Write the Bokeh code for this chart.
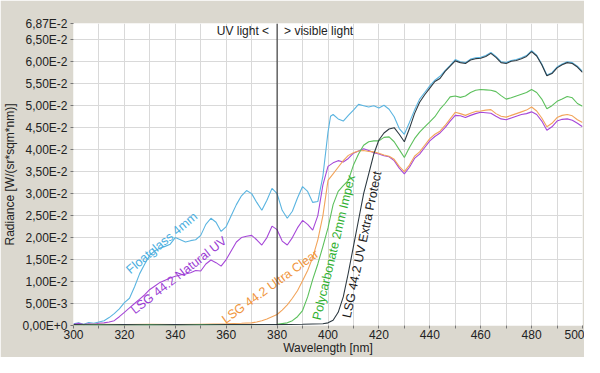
from bokeh.plotting import figure
from bokeh.models import FixedTicker, Span, Label
from bokeh.core.properties import value
from bokeh.embed import file_html
from bokeh.resources import INLINE

# ---------------- data ----------------
float_wl = [300, 302, 304, 306, 308, 310, 312, 314, 316, 318, 320, 322, 324, 326, 328, 330, 332, 334, 336, 338,
            340, 342, 344, 346, 348, 350, 352, 354, 356, 358, 360, 362, 364, 366, 368, 370, 372, 374, 376, 378,
            380, 382, 384, 386, 388, 390, 392, 394, 396, 398, 400, 401, 402, 404, 406, 408, 410, 412, 414, 416,
            418, 420, 422, 424, 426, 428, 430, 432, 434, 436, 438, 440, 442, 444, 446, 448, 450, 452, 454, 456,
            458, 460, 462, 464, 466, 468, 470, 472, 474, 476, 478, 480, 482, 484, 486, 488, 490, 492, 494, 496,
            498, 500]
float_val = [0.0004, 0.0006, 0.0003, 0.0007, 0.0005, 0.0008, 0.0011, 0.0018, 0.0027, 0.0038, 0.0052, 0.0062,
             0.0088, 0.0118, 0.0140, 0.0160, 0.0170, 0.0176, 0.0180, 0.0185, 0.0200, 0.0195, 0.0190, 0.0193,
             0.0195, 0.0205, 0.0230, 0.0244, 0.0235, 0.0214, 0.0225, 0.0250, 0.0275, 0.0295, 0.0307, 0.0300,
             0.0280, 0.0262, 0.0285, 0.0312, 0.0300, 0.0262, 0.0244, 0.0260, 0.0290, 0.0316, 0.0305, 0.0280,
             0.0282, 0.0340, 0.0440, 0.0476, 0.0480, 0.0470, 0.0465, 0.0478, 0.0490, 0.0503, 0.0500, 0.0497,
             0.0500, 0.0495, 0.0501, 0.0492, 0.0475, 0.0448, 0.0435, 0.0462, 0.0490, 0.0515, 0.0530, 0.0545,
             0.0558, 0.0567, 0.0580, 0.0592, 0.0605, 0.0600, 0.0598, 0.0606, 0.0609, 0.0610, 0.0614, 0.0621,
             0.0612, 0.0600, 0.0598, 0.0603, 0.0605, 0.0609, 0.0614, 0.0625, 0.0615, 0.0595, 0.0570, 0.0575,
             0.0588, 0.0595, 0.0600, 0.0598, 0.0590, 0.0578]

natural_wl = [300, 302, 304, 306, 308, 310, 312, 314, 316, 318, 320, 322, 324, 326, 328, 330, 332, 334, 336, 338,
              340, 342, 344, 346, 348, 350, 352, 354, 356, 358, 360, 362, 364, 366, 368, 370, 372, 374, 376, 378,
              380, 382, 384, 386, 388, 390, 392, 394, 396, 398, 400, 402, 404, 406, 408, 410, 412, 414, 416, 418,
              420, 422, 424, 426, 428, 430, 432, 434, 436, 438, 440, 442, 444, 446, 448, 450, 452, 454, 456, 458,
              460, 462, 464, 466, 468, 470, 472, 474, 476, 478, 480, 482, 484, 486, 488, 490, 492, 494, 496, 498,
              500]
natural_val = [0.0003, 0.0005, 0.0002, 0.0004, 0.0003, 0.0005, 0.0006, 0.0008, 0.0011, 0.0020, 0.0030, 0.0040,
               0.0050, 0.0060, 0.0070, 0.0082, 0.0090, 0.0098, 0.0103, 0.0108, 0.0112, 0.0115, 0.0117, 0.0120,
               0.0125, 0.0124, 0.0140, 0.0149, 0.0143, 0.0135, 0.0150, 0.0170, 0.0190, 0.0200, 0.0203, 0.0205,
               0.0195, 0.0183, 0.0200, 0.0226, 0.0218, 0.0192, 0.0183, 0.0200, 0.0222, 0.0239, 0.0230, 0.0217,
               0.0250, 0.0320, 0.0362, 0.0370, 0.0375, 0.0372, 0.0380, 0.0392, 0.0397, 0.0402, 0.0398, 0.0393,
               0.0390, 0.0386, 0.0384, 0.0375, 0.0358, 0.0345, 0.0360, 0.0380, 0.0390, 0.0405, 0.0420, 0.0430,
               0.0438, 0.0450, 0.0465, 0.0478, 0.0477, 0.0473, 0.0478, 0.0482, 0.0485, 0.0484, 0.0483, 0.0476,
               0.0470, 0.0468, 0.0472, 0.0476, 0.0480, 0.0482, 0.0486, 0.0480, 0.0465, 0.0444, 0.0452, 0.0465,
               0.0469, 0.0470, 0.0467, 0.0460, 0.0452]

clear_wl = [300, 310, 320, 330, 340, 350, 360, 366, 370, 372, 374, 376, 378, 380, 382, 384, 386, 388, 390, 392,
            394, 396, 398, 400, 402, 404, 406, 408, 410, 412, 414, 416, 418, 420, 422, 424, 426, 428, 430, 432,
            434, 436, 438, 440, 442, 444, 446, 448, 450, 452, 454, 456, 458, 460, 462, 464, 466, 468, 470, 472,
            474, 476, 478, 480, 482, 484, 486, 488, 490, 492, 494, 496, 498, 500]
clear_val = [0.0002, 0.0003, 0.0002, 0.0003, 0.0002, 0.0003, 0.0004, 0.0005, 0.0006, 0.0008, 0.0011, 0.0015,
             0.0020, 0.0025, 0.0035, 0.0047, 0.0062, 0.0079, 0.0102, 0.0125, 0.0155, 0.0195, 0.0250, 0.0330,
             0.0345, 0.0360, 0.0375, 0.0387, 0.0393, 0.0397, 0.0398, 0.0396, 0.0395, 0.0392, 0.0388, 0.0385,
             0.0378, 0.0362, 0.0350, 0.0365, 0.0385, 0.0395, 0.0410, 0.0425, 0.0435, 0.0442, 0.0455, 0.0470,
             0.0485, 0.0482, 0.0478, 0.0483, 0.0487, 0.0488, 0.0490, 0.0491, 0.0482, 0.0476, 0.0474, 0.0478,
             0.0482, 0.0486, 0.0490, 0.0497, 0.0488, 0.0472, 0.0452, 0.0460, 0.0473, 0.0478, 0.0480, 0.0477,
             0.0468, 0.0462]

poly_wl = [300, 310, 320, 330, 340, 350, 360, 370, 380, 384, 386, 388, 390, 392, 394, 396, 398, 400, 402, 404,
           406, 408, 410, 412, 414, 416, 418, 420, 422, 424, 426, 428, 430, 432, 434, 436, 438, 440, 442, 444,
           446, 448, 450, 452, 454, 456, 458, 460, 462, 464, 466, 468, 470, 472, 474, 476, 478, 480, 482, 484,
           486, 488, 490, 492, 494, 496, 498, 500]
poly_val = [0.0001, 0.0002, 0.0001, 0.0002, 0.0001, 0.0002, 0.0002, 0.0002, 0.0003, 0.0006, 0.0011, 0.0020,
            0.0034, 0.0065, 0.0105, 0.0140, 0.0180, 0.0222, 0.0275, 0.0305, 0.0318, 0.0330, 0.0365, 0.0390,
            0.0410, 0.0418, 0.0420, 0.0420, 0.0428, 0.0429, 0.0418, 0.0400, 0.0382, 0.0405, 0.0425, 0.0440,
            0.0452, 0.0463, 0.0475, 0.0492, 0.0505, 0.0520, 0.0522, 0.0519, 0.0522, 0.0530, 0.0535, 0.0537,
            0.0536, 0.0535, 0.0532, 0.0523, 0.0515, 0.0518, 0.0522, 0.0526, 0.0530, 0.0537, 0.0530, 0.0515,
            0.0493, 0.0500, 0.0510, 0.0515, 0.0521, 0.0518, 0.0505, 0.0499]

protect_wl = [300, 310, 320, 330, 340, 350, 360, 370, 380, 390, 398, 400, 402, 404, 406, 408, 410, 412, 414, 416,
              418, 420, 422, 424, 426, 428, 430, 432, 434, 436, 438, 440, 442, 444, 446, 448, 450, 452, 454, 456,
              458, 460, 462, 464, 466, 468, 470, 472, 474, 476, 478, 480, 482, 484, 486, 488, 490, 492, 494, 496,
              498, 500]
protect_val = [0.0002, 0.0001, 0.0002, 0.0001, 0.0002, 0.0001, 0.0002, 0.0002, 0.0002, 0.0003, 0.0004, 0.0006,
               0.0012, 0.0030, 0.0065, 0.0120, 0.0180, 0.0240, 0.0300, 0.0345, 0.0390, 0.0422, 0.0438, 0.0447,
               0.0450, 0.0435, 0.0418, 0.0448, 0.0482, 0.0508, 0.0525, 0.0540, 0.0555, 0.0562, 0.0578, 0.0590,
               0.0602, 0.0598, 0.0596, 0.0604, 0.0607, 0.0608, 0.0612, 0.0619, 0.0610, 0.0598, 0.0596, 0.0601,
               0.0603, 0.0607, 0.0612, 0.0623, 0.0613, 0.0593, 0.0568, 0.0573, 0.0586, 0.0593, 0.0598, 0.0596,
               0.0588, 0.0576]

series_names = ["Floatglass 4mm", "LSG 44.2 Natural UV", "LSG 44.2 Ultra Clear",
                "Polycarbonate 2mm Impex", "LSG 44.2 UV Extra Protect"]

y_ticks = [0.0, 0.005, 0.01, 0.015, 0.02, 0.025, 0.03, 0.035, 0.04, 0.045, 0.05, 0.055, 0.06, 0.065, 0.0687]
y_tick_labels = ["0,00E+0", "5,00E-3", "1,00E-2", "1,50E-2", "2,00E-2", "2,50E-2", "3,00E-2", "3,50E-2",
                 "4,00E-2", "4,50E-2", "5,00E-2", "5,50E-2", "6,00E-2", "6,50E-2", "6,87E-2"]
x_ticks = [300, 320, 340, 360, 380, 400, 420, 440, 460, 480, 500]
x_minor = [310, 330, 350, 370, 390, 410, 430, 450, 470, 490]
boundary_nm = 380

# ---------------- styling ----------------
BG = "#dbd8cf"
GRID = "#d9d9d9"
FONT = "Liberation Sans"
colors = ["#5ab4e0", "#a648d8", "#f2a45a", "#5cc05c", "#2e3a42"]
text_colors = ["#4aaee0", "#9a3cd4", "#f0953c", "#30b030", "#1a1a1a"]

p = figure(width=584, height=357, output_backend="svg", toolbar_location=None,
           x_range=(300, 500), y_range=(0, 0.0687),
           background_fill_color="white", border_fill_color=BG,
           min_border_left=65, min_border_right=2, min_border_top=23, min_border_bottom=0)
p.outline_line_color = None

p.xaxis.ticker = FixedTicker(ticks=x_ticks, minor_ticks=x_minor)
p.yaxis.ticker = FixedTicker(ticks=y_ticks)
p.yaxis.major_label_overrides = dict(zip(y_ticks, y_tick_labels))
p.xgrid.grid_line_color = GRID
p.xgrid.minor_grid_line_color = GRID
p.ygrid.grid_line_color = GRID

for ax in (p.xaxis, p.yaxis):
    ax.axis_line_color = None
    ax.major_tick_line_color = "#777777"
    ax.minor_tick_line_color = "#777777"
    ax.major_tick_in = 0
    ax.major_tick_out = 3
    ax.minor_tick_in = 0
    ax.minor_tick_out = 3
    ax.major_label_text_font = FONT
    ax.major_label_text_font_size = "12px"
    ax.major_label_text_color = "#222222"
    ax.axis_label_text_font = FONT
    ax.axis_label_text_font_size = "12px"
    ax.axis_label_text_font_style = "normal"
    ax.axis_label_text_color = "#222222"

p.yaxis.minor_tick_out = 0
p.xaxis.axis_label = "Wavelength [nm]"
p.yaxis.axis_label = "Radiance [W/(sr*sqm*nm)]"
p.xaxis.major_label_standoff = 1
p.xaxis.axis_label_standoff = -1
p.yaxis.major_label_standoff = 3
p.yaxis.axis_label_standoff = 2

series = [(float_wl, float_val), (natural_wl, natural_val), (clear_wl, clear_val),
          (poly_wl, poly_val), (protect_wl, protect_val)]
for (wl, vals), c in zip(series, colors):
    p.line(wl, vals, line_color=c, line_width=1.1)

p.add_layout(Span(location=boundary_nm, dimension="height", line_color="#222222", line_width=1))
p.add_layout(Label(x=boundary_nm, y=0.0669, text="UV light <", text_align="right", text_baseline="middle",
                   x_offset=-8, text_font=FONT, text_font_size="12px", text_color="#222222"))
p.add_layout(Label(x=boundary_nm, y=0.0669, text="> visible light", text_align="left", text_baseline="middle",
                   x_offset=7, text_font=FONT, text_font_size="12px", text_color="#222222"))

label_pos = {"x": [321.4, 323.2, 358.9, 395.5, 407.3],
             "y": [0.0123, 0.0032, 0.0011, 0.0013, 0.0018],
             "angle": [40, 38, 36, 76.5, 78]}
for name, lx, ly, ang, tc in zip(series_names, label_pos["x"], label_pos["y"], label_pos["angle"], text_colors):
    p.text(x=[lx], y=[ly], text=[name], angle=ang, angle_units="deg", text_align="left",
           text_baseline="middle", text_font=value(FONT), text_font_size="12.5px", text_color=tc)

open("out.html", "w").write(file_html(p, INLINE))
